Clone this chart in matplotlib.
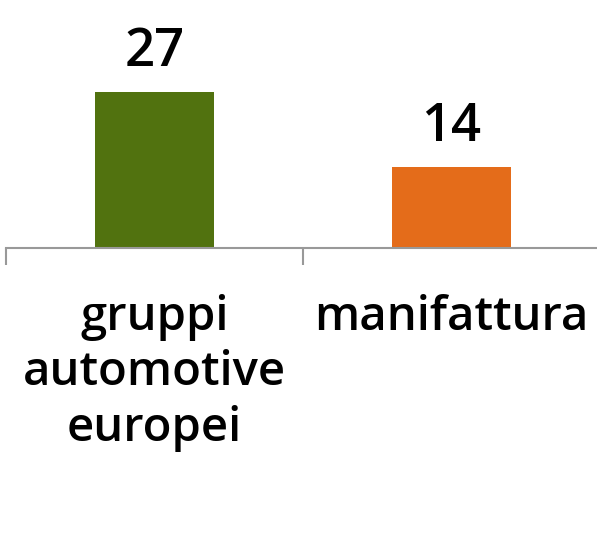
import matplotlib.pyplot as plt
import numpy as np

categories = ['gruppi\nautomotive\neuropei', 'manifattura']
values = [27, 14]
colors = ['#51720f', '#e46c1a']

plt.rcParams['font.family'] = ['Open Sans', 'DejaVu Sans']

fig = plt.figure(figsize=(5.97, 5.48), dpi=100)
ax = fig.add_axes([6 / 597, 300 / 548, 594 / 597, 248 / 548])

x = np.arange(len(categories))
bars = ax.bar(x, values, width=0.4, color=colors)
for xi, v in zip(x, values):
    ax.text(xi, v + 2.3, str(v), ha='center', va='bottom', fontsize=38,
            fontweight='semibold', color='black')

ax.set_xlim(-0.5, 1.5)
ax.set_ylim(0, 43)
for s in ['top', 'right', 'left']:
    ax.spines[s].set_visible(False)
ax.spines['bottom'].set_color('#999999')
ax.spines['bottom'].set_linewidth(1.5)
ax.set_yticks([])

ax.set_xticks(x)
ax.set_xticklabels(categories, fontsize=34, fontweight='semibold', linespacing=1.24)
ax.tick_params(axis='x', which='major', length=0, pad=33)
ax.set_xticks([-0.5, 0.5, 1.5], minor=True)
ax.tick_params(axis='x', which='minor', length=12, width=1.5, color='#999999')

fig.savefig('out.png', dpi=100)
